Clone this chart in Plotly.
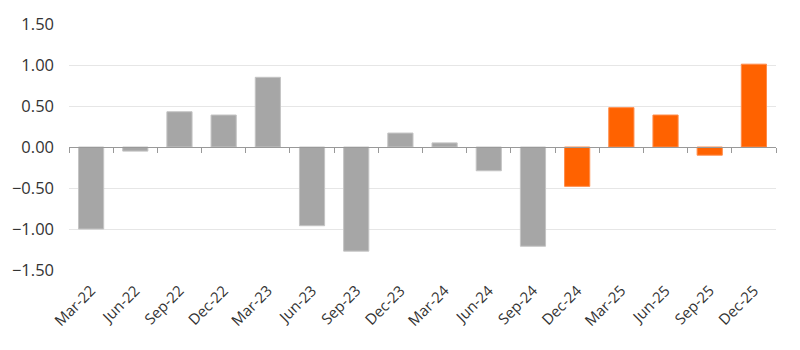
import plotly.graph_objects as go

# Quarterly values; the last five quarters are forecasts
quarters = ["Mar-22", "Jun-22", "Sep-22", "Dec-22", "Mar-23", "Jun-23", "Sep-23", "Dec-23",
            "Mar-24", "Jun-24", "Sep-24", "Dec-24", "Mar-25", "Jun-25", "Sep-25", "Dec-25"]
values = [-1.00, -0.05, 0.43, 0.39, 0.85, -0.96, -1.27, 0.17,
          0.05, -0.29, -1.21, -0.48, 0.48, 0.39, -0.10, 1.01]
forecast_start = 11  # index of the first forecast quarter

y_ticks = [-1.5, -1.0, -0.5, 0.0, 0.5, 1.0, 1.5]

GREY = "#a6a6a6"
ORANGE = "#ff6200"
TEXT = "#333333"
FONT = "Open Sans"

actual = [v if i < forecast_start else None for i, v in enumerate(values)]
forecast = [v if i >= forecast_start else None for i, v in enumerate(values)]

fig = go.Figure()
fig.add_trace(go.Bar(
    x=quarters, y=actual, xaxis="x", yaxis="y",
    marker=dict(color=GREY, line=dict(color="#c4c4c4", width=1)),
    hoverinfo="x+y", showlegend=False,
))
fig.add_trace(go.Bar(
    x=quarters, y=forecast, xaxis="x2", yaxis="y",
    marker=dict(color=ORANGE, line=dict(color="#ff8c4a", width=1)),
    hoverinfo="x+y", showlegend=False,
))

fig.update_layout(
    width=800, height=350,
    margin=dict(l=69, r=24, t=24, b=80),
    paper_bgcolor="white", plot_bgcolor="white",
    barmode="overlay", bargap=0.43,
    font=dict(family=FONT, size=15, color=TEXT),
    xaxis=dict(
        type="category", categoryorder="array", categoryarray=quarters,
        range=[-0.5, len(quarters) - 0.5],
        showline=False, showgrid=False, zeroline=False, ticks="",
        tickangle=-45, tickfont=dict(size=15, color=TEXT),
        ticklabelstandoff=8,
    ),
    # axis line with boundary ticks running along y = 0
    xaxis2=dict(
        type="category", overlaying="x", matches="x",
        anchor="free", position=0.5, side="bottom",
        showline=True, linecolor="#999999", linewidth=1,
        ticks="outside", tickson="boundaries", ticklen=5, tickcolor="#999999",
        showticklabels=False, showgrid=False, zeroline=False,
    ),
    yaxis=dict(
        range=[-1.5, 1.5], tickvals=y_ticks, tickformat=".2f",
        showgrid=True, gridcolor="#e6e6e6", gridwidth=1,
        zeroline=False, showline=False, ticks="",
        tickfont=dict(size=16.5, color=TEXT), ticklabelstandoff=14,
    ),
)

fig.write_html("out.html")
